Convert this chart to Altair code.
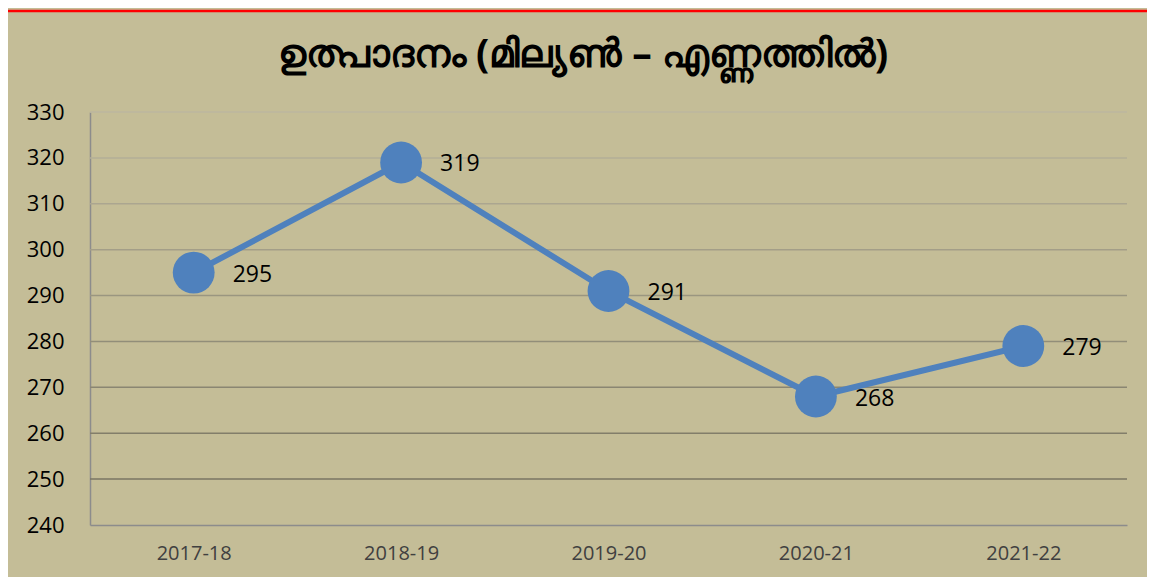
import altair as alt
import pandas as pd

years = ["2017-18", "2018-19", "2019-20", "2020-21", "2021-22"]
values = [295, 319, 291, 268, 279]
y_ticks = [240, 250, 260, 270, 280, 290, 300, 310, 320, 330]
grid_vals = [250, 260, 270, 280, 290, 300, 310, 320, 330]
title_text = "ഉത്പാദനം (മില്യൺ – എണ്ണത്തിൽ)"

df = pd.DataFrame({"year": years, "value": values})
grid_df = pd.DataFrame({"g": grid_vals})

W, H = 1037, 413
BLUE = "#4f81bd"
FONT = "Open Sans"

xenc = alt.X("year:N", sort=years, title=None,
             scale=alt.Scale(type="point", padding=0.5),
             axis=alt.Axis(labelAngle=0, labelFontSize=20, labelColor="#404040",
                           labelFont=FONT, ticks=False, labelPadding=18,
                           domainColor="#8c8c8c", domainWidth=1.5, grid=False))
yscale = alt.Scale(domain=[240, 330], nice=False, zero=False)
yaxis = alt.Axis(values=y_ticks, labelFontSize=22, labelColor="#000000",
                 labelFont=FONT, ticks=False, labelPadding=26,
                 domainColor="#8c8c8c", domainWidth=1.5, grid=False)
yenc = alt.Y("value:Q", title=None, scale=yscale, axis=yaxis)

grid = alt.Chart(grid_df).mark_rule(strokeWidth=1.5).encode(
    y=alt.Y("g:Q", scale=yscale, axis=yaxis, title=None),
    x=alt.value(0), x2=alt.value(W),
    color=alt.Color("g:Q", scale=alt.Scale(domain=[250, 330],
                    range=["#7a7663", "#bcb79f"]), legend=None),
)

base = alt.Chart(df).encode(x=xenc, y=yenc)
line = base.mark_line(color=BLUE, strokeWidth=6)
pts = base.mark_circle(color=BLUE, size=1750, opacity=1)
labels = base.mark_text(align="left", baseline="middle", dx=39, dy=2,
                        fontSize=23, font=FONT, color="#000000").encode(
    text=alt.Text("value:Q"))

one = pd.DataFrame({"t": [title_text]})
frame = alt.Chart(one).mark_rule(color="#ff0000", strokeWidth=2.5).encode(
    x=alt.value(-90), x2=alt.value(W + 30), y=alt.value(-101))
title = alt.Chart(one).mark_text(fontSize=39, font="Noto Sans", fontWeight="bold",
                                 color="#000000", align="center",
                                 baseline="middle").encode(
    text="t:N", x=alt.value(493), y=alt.value(-57))

chart = alt.layer(grid, line, pts, labels, frame, title).properties(
    width=W, height=H,
    background="#c4bd97",
    padding={"left": 82, "top": 104, "right": 20, "bottom": 52},
    autosize=alt.AutoSizeParams(type="none"),
).configure_view(stroke=None)

chart.save("out.html", embed_options={"renderer": "svg", "actions": False})
